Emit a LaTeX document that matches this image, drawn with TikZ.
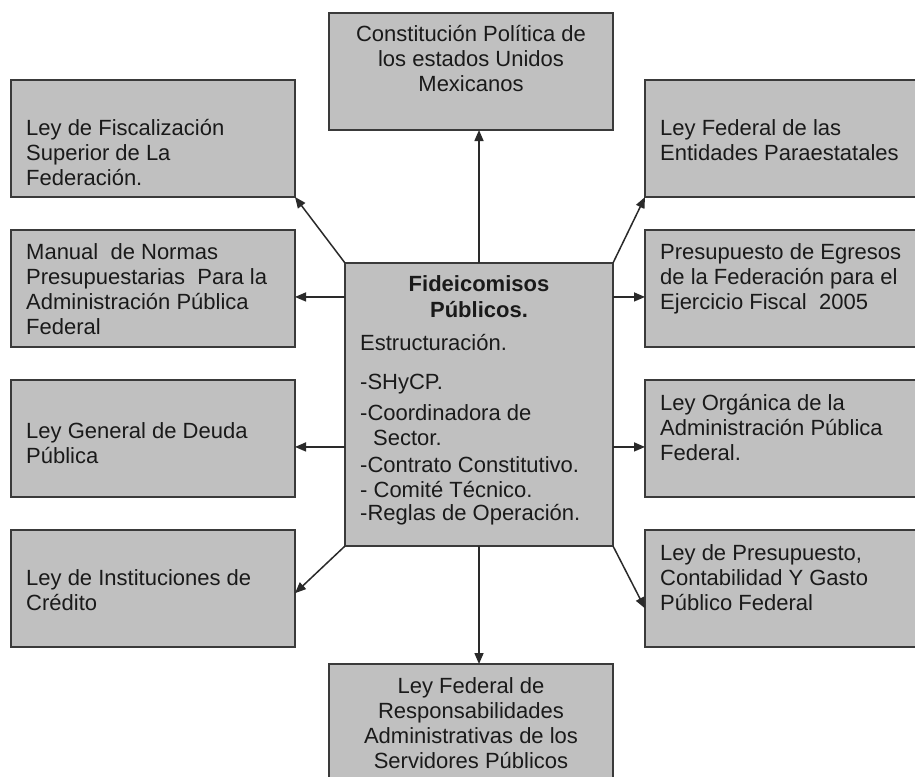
\documentclass[tikz,border=0pt]{standalone}
\usepackage{fontspec}
\setmainfont{Liberation Sans}
\usetikzlibrary{arrows.meta,calc}
\definecolor{boxfill}{HTML}{C0C0C0}
\definecolor{boxline}{HTML}{3A3A3A}
\definecolor{arrline}{HTML}{2A2A2A}
\definecolor{ink}{HTML}{1A1A1A}
\begin{document}
\begin{tikzpicture}[x=1pt,y=-1pt,
  box/.style={draw=boxline, line width=1.8pt, fill=boxfill, rectangle, inner sep=0pt, outer sep=0pt, anchor=north west},
  sidebox/.style={box, minimum width=284pt, minimum height=117pt},
  rightbox/.style={box, minimum width=300pt, minimum height=117pt},
  txt/.style={inner sep=0pt, font=\fontsize{22}{25}\selectfont, text=ink, align=left},
  ctxt/.style={txt, align=center},
  arr/.style={draw=arrline, line width=1.5pt, -{Triangle[length=11pt,width=9pt]}}]
\useasboundingbox (0,0) rectangle (915,776);
\clip (0,0) rectangle (915,776);
\fill[white] (0,0) rectangle (915,776);
% boxes
\node[sidebox] (top) at (329,13) {};
\node[sidebox] (L1) at (11,80) {};
\node[sidebox] (L2) at (11,230) {};
\node[sidebox] (L3) at (11,380) {};
\node[sidebox] (L4) at (11,530) {};
\node[rightbox] (R1) at (645,80) {};
\node[rightbox] (R2) at (645,230) {};
\node[rightbox] (R3) at (645,380) {};
\node[rightbox] (R4) at (645,530) {};
\node[box, minimum width=268pt, minimum height=283pt] (C) at (345,263) {};
\node[box, minimum width=284pt, minimum height=140pt] (bot) at (329,664) {};
% texts (anchor base = baseline of the last line)
\node[ctxt, anchor=base] (ttop) at (471,92) {Constitución Política de\\los estados Unidos\\Mexicanos};
\node[txt, anchor=base west] (tL1) at (26,185) {Ley de Fiscalización\\Superior de La\\Federación.};
\node[txt, anchor=base west] (tL2) at (26,334) {Manual\ \ de Normas\\Presupuestarias\ \ Para la\\Administración Pública\\Federal};
\node[txt, anchor=base west] (tL3) at (26,463) {Ley General de Deuda\\Pública};
\node[txt, anchor=base west] (tL4) at (26,610) {Ley de Instituciones de\\Crédito};
\node[txt, anchor=base west] (tR1) at (660,160) {Ley Federal de las\\Entidades Paraestatales};
\node[txt, anchor=base west] (tR2) at (660,309) {Presupuesto de Egresos\\de la Federación para el\\Ejercicio Fiscal\ \ 2005};
\node[txt, anchor=base west] (tR3) at (660,460) {Ley Orgánica de la\\Administración Pública\\Federal.};
\node[txt, anchor=base west] (tR4) at (660,610) {Ley de Presupuesto,\\Contabilidad Y Gasto\\Público Federal};
\node[ctxt, anchor=base] (tbot) at (471,768) {Ley Federal de\\Responsabilidades\\Administrativas de los\\Servidores Públicos};
\node[ctxt, anchor=base, font=\fontsize{22}{26}\selectfont\bfseries] (tC1) at (479,317) {Fideicomisos\\Públicos.};
\node[txt, anchor=base west] (tC2) at (360,520) {Estructuración.\\[14pt]-SHyCP.\\[6pt]-Coordinadora de\\\hspace*{13pt}Sector.\\[2pt]-Contrato Constitutivo.\\-\ Comité Técnico.\\[-2pt]-Reglas de Operación.};
% connectors
\draw[arr] (C.north) -- (C.north |- top.south);
\draw[arr] (C.south) -- (C.south |- bot.north);
\draw[arr] (C.north west) -- (L1.south east);
\draw[arr] ($(C.north west)!0.12!(C.south west)$) coordinate (p2) -- (p2 -| L2.east);
\draw[arr] ($(C.north west)!0.65!(C.south west)$) coordinate (p3) -- (p3 -| L3.east);
\draw[arr] (C.south west) -- ($(L4.north east)!0.54!(L4.south east)$);
\draw[arr] (C.north east) -- (R1.south west);
\draw[arr] ($(C.north east)!0.12!(C.south east)$) coordinate (q2) -- (q2 -| R2.west);
\draw[arr] ($(C.north east)!0.65!(C.south east)$) coordinate (q3) -- (q3 -| R3.west);
\draw[arr] (C.south east) -- ($(R4.north west)!0.67!(R4.south west)$);
\end{tikzpicture}
\end{document}
